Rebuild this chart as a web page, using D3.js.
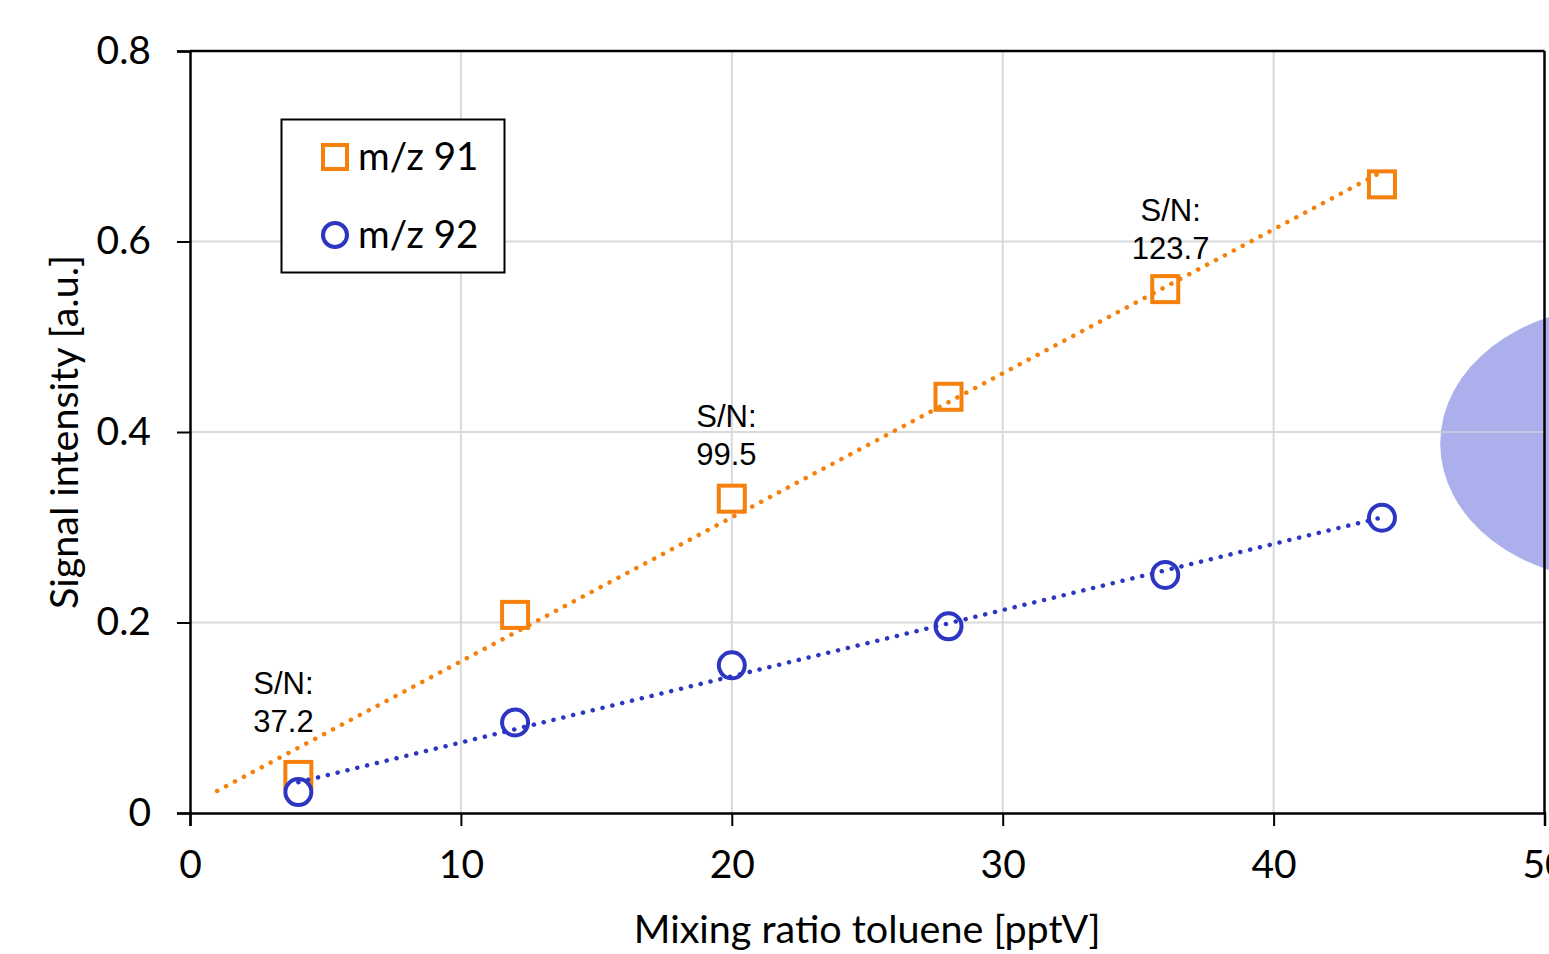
<!DOCTYPE html>
<html>
<head>
<meta charset="utf-8">
<script src="https://cdn.jsdelivr.net/npm/d3@7"></script>
<style>
  html, body { margin: 0; padding: 0; background: #fff; overflow: hidden; }
  svg { display: block; }
</style>
</head>
<body>
<div id="viz"></div>
<script>
// toluene calibration: mixing ratio vs signal
const mixingRatio = [4, 12, 20, 28, 36, 44];
const signalMz91 = [0.04, 0.208, 0.33, 0.437, 0.55, 0.66];
const signalMz92 = [0.022, 0.095, 0.155, 0.196, 0.25, 0.31];

const xTicks = [0, 10, 20, 30, 40, 50];
const yTicks = [0, 0.2, 0.4, 0.6, 0.8];
const yTickLabels = ['0', '0.2', '0.4', '0.6', '0.8'];

// fitted line ranges (x start / x end)
const fitRange91 = [1, 44];
const fitRange92 = [4, 44];

// S/N annotations: [x, y, line1, line2]
const snNotes = [
  [3.45, 0.125, 'S/N:', '37.2'],
  [19.8, 0.405, 'S/N:', '99.5'],
  [36.2, 0.622, 'S/N:', '123.7']
];

// blob at the right edge (centre x, centre y, radius x, radius y) in data units
const blob = [52.7, 0.388, 6.55, 0.144];

const width = 1549;
const height = 954;
const margin = { top: 51, right: 4, bottom: 141, left: 190 };
const ORANGE = '#f5800c';
const BLUE = '#2c36c2';
const FONT = 'Lato, "Open Sans", sans-serif';
const ARIAL = '"Liberation Sans", Arial, sans-serif';

const x = d3.scaleLinear().domain([0, 50]).range([margin.left, width - margin.right - 0.5]);
const y = d3.scaleLinear().domain([0, 0.8]).range([height - margin.bottom, margin.top]);

const svg = d3.select('#viz')
  .append('svg')
  .attr('width', width)
  .attr('height', height);

// linear regression for the trend lines
const fit = function (xs, ys) {
  const mx = d3.mean(xs);
  const my = d3.mean(ys);
  const sxy = d3.sum(xs, (v, i) => (v - mx) * (ys[i] - my));
  const sxx = d3.sum(xs, v => (v - mx) * (v - mx));
  const k = sxy / sxx;
  return { k, b: my - k * mx };
};

// gridlines
svg.append('g')
  .selectAll('line')
  .data(xTicks.slice(1, -1))
  .enter()
  .append('line')
  .attr('x1', d => x(d)).attr('x2', d => x(d))
  .attr('y1', y(0)).attr('y2', y(0.8))
  .style('stroke', '#d9d9d9')
  .style('stroke-width', 2);

svg.append('g')
  .selectAll('line')
  .data(yTicks.slice(1, -1))
  .enter()
  .append('line')
  .attr('x1', x(0)).attr('x2', x(50))
  .attr('y1', d => y(d)).attr('y2', d => y(d))
  .style('stroke', '#d9d9d9')
  .style('stroke-width', 2);

// the blob on the right
svg.append('ellipse')
  .attr('cx', x(blob[0]))
  .attr('cy', y(blob[1]))
  .attr('rx', x(blob[2]) - x(0))
  .attr('ry', y(0) - y(blob[3]))
  .style('fill', '#abb0ec');

svg.append('line')
  .attr('x1', x(46)).attr('x2', x(50))
  .attr('y1', y(0.4)).attr('y2', y(0.4))
  .style('stroke', '#d9d9d9')
  .style('stroke-opacity', 0.6)
  .style('stroke-width', 2);

// axes
const xAxis = svg.append('g')
  .attr('transform', `translate(0,${y(0)})`)
  .call(d3.axisBottom(x).tickValues(xTicks).tickSize(13).tickPadding(24).tickFormat(d3.format('d')));

const yAxis = svg.append('g')
  .attr('transform', `translate(${x(0)},0)`)
  .call(d3.axisLeft(y).tickValues(yTicks).tickSize(13).tickPadding(26)
    .tickFormat((d, i) => yTickLabels[i]));

[xAxis, yAxis].forEach(g => {
  g.select('.domain').style('stroke', '#000').style('stroke-width', 2.5);
  g.selectAll('.tick line').style('stroke', '#000').style('stroke-width', 2);
  g.selectAll('.tick text')
    .style('font-family', FONT)
    .style('font-size', '39px')
    .style('fill', '#000');
});

// top and right border
svg.append('line')
  .attr('x1', x(0)).attr('x2', x(50))
  .attr('y1', y(0.8)).attr('y2', y(0.8))
  .style('stroke', '#000').style('stroke-width', 2.5);
svg.append('line')
  .attr('x1', x(50)).attr('x2', x(50))
  .attr('y1', y(0.8)).attr('y2', y(0))
  .style('stroke', '#000').style('stroke-width', 2.5);

// markers
const markers = svg.append('g');

markers.selectAll('.sq')
  .data(mixingRatio)
  .enter()
  .append('rect')
  .attr('class', 'sq')
  .attr('x', d => x(d) - 13)
  .attr('y', (d, i) => y(signalMz91[i]) - 13)
  .attr('width', 26)
  .attr('height', 26)
  .style('fill', '#fff')
  .style('stroke', ORANGE)
  .style('stroke-width', 4);

markers.selectAll('.ci')
  .data(mixingRatio)
  .enter()
  .append('circle')
  .attr('class', 'ci')
  .attr('cx', d => x(d))
  .attr('cy', (d, i) => y(signalMz92[i]))
  .attr('r', 13)
  .style('fill', '#fff')
  .style('stroke', BLUE)
  .style('stroke-width', 4);

// dotted trend lines
const drawFit = function (ys, range, color) {
  const f = fit(mixingRatio, ys);
  svg.append('line')
    .attr('x1', x(range[0]))
    .attr('y1', y(f.k * range[0] + f.b))
    .attr('x2', x(range[1]))
    .attr('y2', y(f.k * range[1] + f.b))
    .style('stroke', color)
    .style('stroke-width', 4.5)
    .style('stroke-linecap', 'round')
    .style('stroke-dasharray', '0.1 10');
};
drawFit(signalMz91, fitRange91, ORANGE);
drawFit(signalMz92, fitRange92, BLUE);

// S/N notes
const notes = svg.append('g')
  .selectAll('text')
  .data(snNotes)
  .enter()
  .append('text')
  .attr('x', d => x(d[0]))
  .attr('y', d => y(d[1]))
  .attr('text-anchor', 'middle')
  .style('font-family', ARIAL)
  .style('font-size', '31px')
  .style('fill', '#000');
notes.append('tspan').attr('x', d => x(d[0])).text(d => d[2]);
notes.append('tspan').attr('x', d => x(d[0])).attr('dy', 38).text(d => d[3]);

// legend
const legend = svg.append('g');
legend.append('rect')
  .attr('x', 281.5).attr('y', 119.5)
  .attr('width', 223).attr('height', 153)
  .style('fill', '#fff')
  .style('stroke', '#000')
  .style('stroke-width', 2);

legend.append('rect')
  .attr('x', 323).attr('y', 145)
  .attr('width', 24).attr('height', 24)
  .style('fill', 'none')
  .style('stroke', ORANGE)
  .style('stroke-width', 4);
legend.append('circle')
  .attr('cx', 335).attr('cy', 235)
  .attr('r', 12)
  .style('fill', 'none')
  .style('stroke', BLUE)
  .style('stroke-width', 4);

legend.selectAll('.lt')
  .data(['m/z 91', 'm/z 92'])
  .enter()
  .append('text')
  .attr('class', 'lt')
  .attr('x', 358)
  .attr('y', (d, i) => 170 + i * 78)
  .style('font-family', FONT)
  .style('font-size', '38.5px')
  .style('fill', '#000')
  .text(d => d);

// axis titles
svg.append('text')
  .attr('x', (x(0) + x(50)) / 2)
  .attr('y', 943)
  .attr('text-anchor', 'middle')
  .style('font-family', FONT)
  .style('font-size', '39.5px')
  .style('fill', '#000')
  .text('Mixing ratio toluene [pptV]');

svg.append('text')
  .attr('transform', `translate(78,${(y(0) + y(0.8)) / 2}) rotate(-90)`)
  .attr('text-anchor', 'middle')
  .style('font-family', FONT)
  .style('font-size', '39.5px')
  .style('fill', '#000')
  .text('Signal intensity [a.u.]');
</script>
</body>
</html>
